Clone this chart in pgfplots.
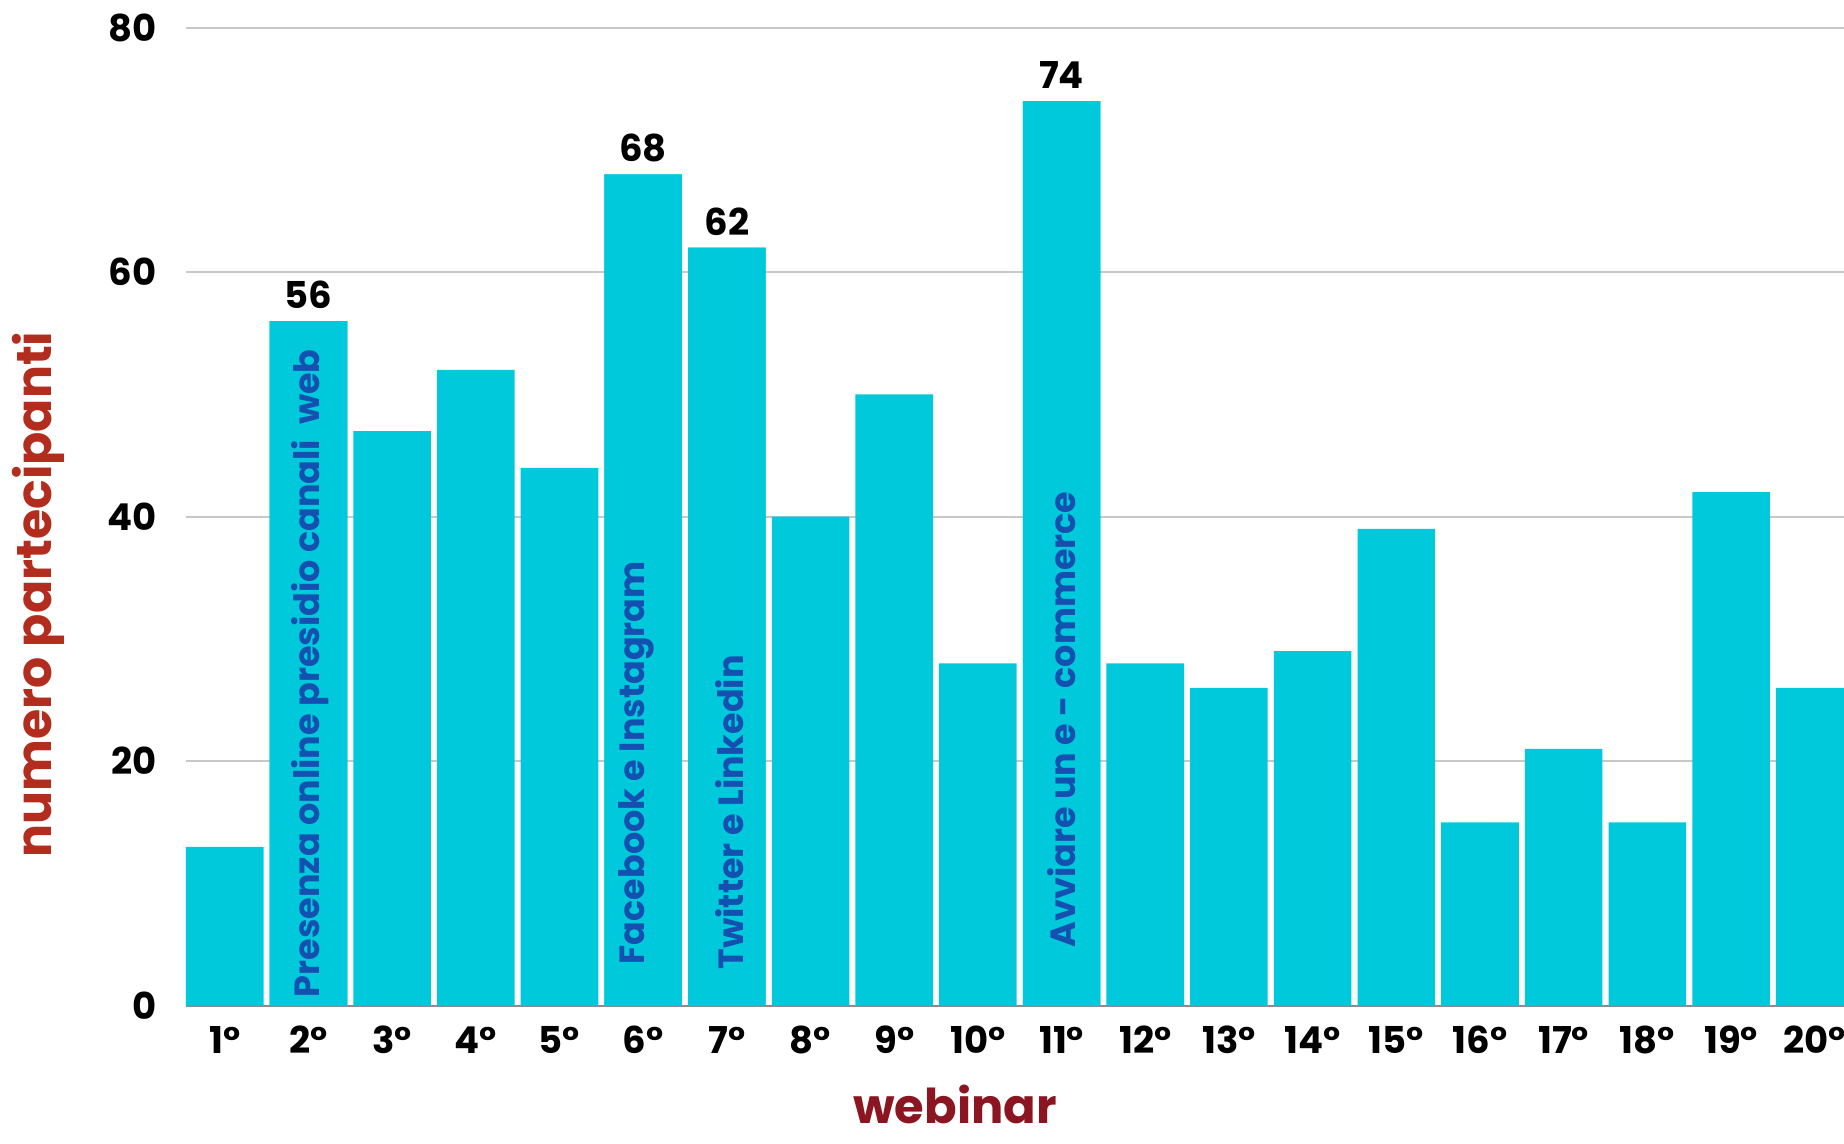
\documentclass[border=0pt]{standalone}
\usepackage{pgfplots}
\pgfplotsset{compat=1.18}
\usepackage{fontspec}
\setmainfont{Poppins}
\definecolor{barc}{HTML}{00C9DB}
\definecolor{gridc}{HTML}{C8C8C8}
\definecolor{axc}{HTML}{8C8C8C}
\definecolor{ylab}{HTML}{B32D1E}
\definecolor{xlab}{HTML}{8B1520}
\definecolor{txtb}{HTML}{1450B0}
\newcommand{\tickfont}{\fontsize{18.5}{21}\selectfont\bfseries}
\newcommand{\inbarfont}{\fontsize{17.5}{20}\selectfont\bfseries}
\begin{document}
\begin{tikzpicture}
\begin{axis}[
  at={(0,0)}, anchor=south west, scale only axis,
  width=829pt, height=489pt,
  xmin=0.5365, xmax=20.35, ymin=0, ymax=80,
  ytick={0,20,40,60,80},
  xtick={1,...,20},
  xticklabels={1°,2°,3°,4°,5°,6°,7°,8°,9°,10°,11°,12°,13°,14°,15°,16°,17°,18°,19°,20°},
  major tick length=0pt,
  /pgf/number format/assume math mode=true,
  yticklabel style={font=\tickfont, anchor=east, inner sep=0pt, xshift=-14.5pt},
  xticklabel style={font=\tickfont, anchor=base, inner sep=0pt, yshift=-24pt},
  ymajorgrids, grid style={gridc, line width=1pt},
  axis x line*=bottom, axis y line*=left,
  y axis line style={draw=none},
  x axis line style={axc, line width=1pt},
]
\addplot[ybar, bar width=0.927, bar shift=0pt, fill=barc, draw=none] coordinates {
(1,13) (2,56) (3,47) (4,52) (5,44) (6,68) (7,62) (8,40) (9,50) (10,28)
(11,74) (12,28) (13,26) (14,29) (15,39) (16,15) (17,21) (18,15) (19,42) (20,26)};
\addplot[ybar, bar width=0.927, bar shift=0pt, fill=barc, draw=none,
  nodes near coords, nodes near coords style={font=\tickfont, text=black, anchor=base, inner sep=0pt, yshift=6.35pt}] coordinates {
(2,56) (6,68) (7,62) (11,74)};
\node[rotate=90, anchor=base west, inner sep=0pt, text=txtb, font=\inbarfont] at (axis cs:2.137,0.65) {Presenza online presidio canali\ \ web};
\node[rotate=90, anchor=base west, inner sep=0pt, text=txtb, font=\inbarfont] at (axis cs:6.018,3.35) {Facebook e Instagram};
\node[rotate=90, anchor=base west, inner sep=0pt, text=txtb, font=\inbarfont] at (axis cs:7.203,2.94) {Twitter e Linkedin};
\node[rotate=90, anchor=base west, inner sep=0pt, text=txtb, font=\inbarfont] at (axis cs:11.17,4.74) {Avviare un e - commerce};
\end{axis}
\node[rotate=90, anchor=base, inner sep=0pt, text=ylab, font=\fontsize{24.5}{27}\selectfont\bfseries] at (-67pt,205.5pt) {numero partecipanti};
\node[anchor=base, inner sep=0pt, text=xlab, font=\fontsize{24}{27}\selectfont\bfseries] at (384.5pt,-59pt) {webinar};
\pgfresetboundingbox
\path[use as bounding box] (-93pt,-69pt) rectangle (829pt,502.85pt);
\end{tikzpicture}
\end{document}
